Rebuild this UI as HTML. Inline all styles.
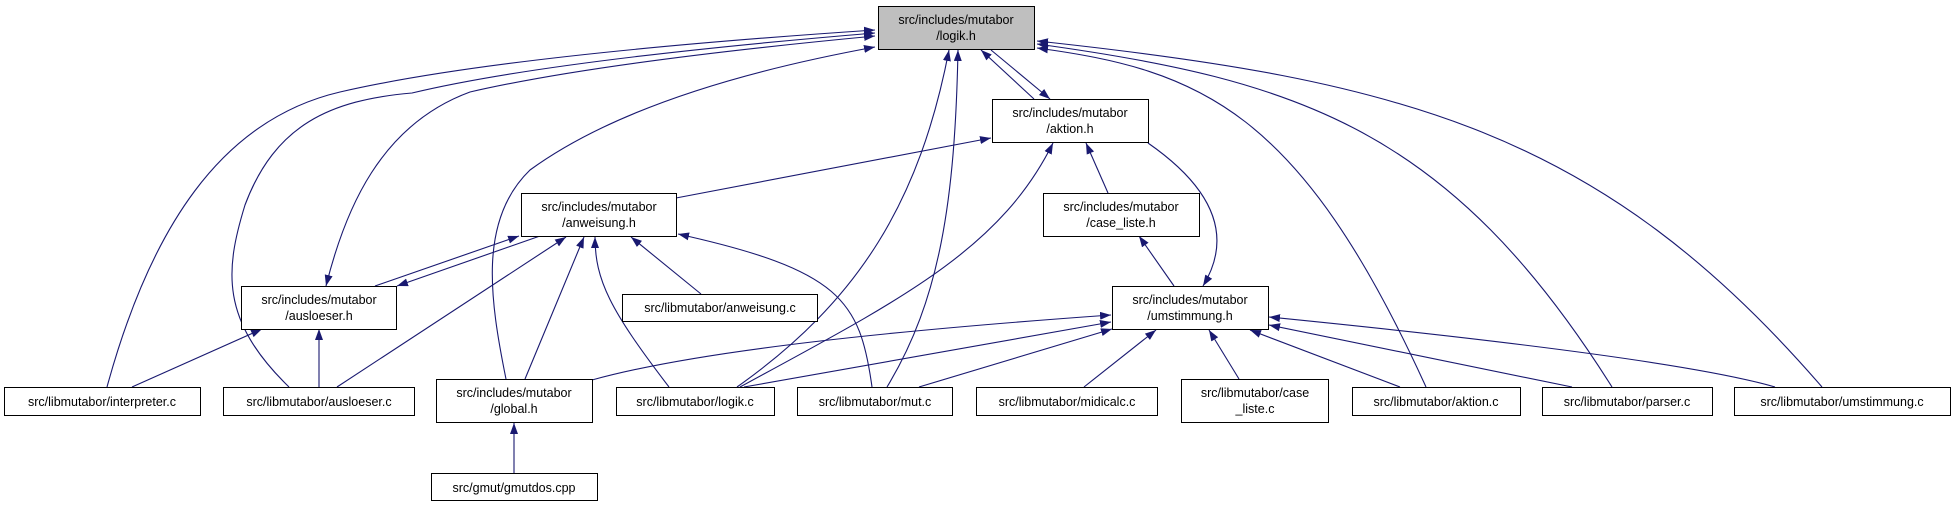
<!DOCTYPE html>
<html><head><meta charset="utf-8"><style>
html,body{margin:0;padding:0;background:#fff;}
svg{display:block;}
text{font-family:"Liberation Sans",sans-serif;font-size:12.5px;fill:#000;}
</style></head><body>
<svg width="1955" height="507" viewBox="0 0 1955 507" xmlns="http://www.w3.org/2000/svg">
<defs>
<marker id="a" markerUnits="userSpaceOnUse" markerWidth="12" markerHeight="9" refX="11" refY="4" orient="auto-start-reverse">
<path d="M0,0 L11,4 L0,8 z" fill="#191970"/>
</marker>
</defs>
<g fill="none" stroke="#191970" stroke-width="1.1" marker-end="url(#a)">
<path d="M107,387 C150,230 220,120 340,92 Q500,55 875,30"/>
<path d="M289,387 C220,320 225,270 245,205 C275,125 330,100 412,93 Q550,60 875,33"/>
<path d="M326,286 C345,210 380,125 470,92 Q600,62 875,36" marker-start="url(#a)"/>
<path d="M506,379 C490,300 478,220 530,170 Q640,90 875,47"/>
<path d="M737,387 C860,300 920,200 949,50"/>
<path d="M887,387 C940,300 955,200 958,50"/>
<path d="M1034,99 L981,50"/>
<path d="M991,50 L1050,99"/>
<path d="M1426,387 C1300,110 1200,70 1037,48"/>
<path d="M1612,387 C1450,130 1300,80 1037,44"/>
<path d="M1822,387 C1600,130 1400,80 1037,41"/>
<path d="M676,198 L991,138"/>
<path d="M375,286 L519,236"/>
<path d="M540,236 L397,286"/>
<path d="M337,387 L566,237"/>
<path d="M525,379 L584,237"/>
<path d="M669,387 C610,310 595,280 595,237"/>
<path d="M701,294 L631,237"/>
<path d="M872,387 C860,300 840,270 678,234"/>
<path d="M740,387 C900,300 1000,250 1053,143"/>
<path d="M1108,193 L1086,143"/>
<path d="M1148,143 C1230,200 1225,250 1203,286"/>
<path d="M1174,286 L1139,236"/>
<path d="M592,380 C700,350 900,330 1111,315"/>
<path d="M744,387 L1111,322"/>
<path d="M919,387 L1112,329"/>
<path d="M1084,387 L1156,330"/>
<path d="M1239,379 L1209,330"/>
<path d="M1400,387 L1250,330"/>
<path d="M1572,387 L1269,325"/>
<path d="M1775,387 C1700,365 1500,340 1269,317"/>
<path d="M132,387 L262,329"/>
<path d="M319,387 L319,329"/>
<path d="M514,473 L514,423"/>
</g>
<g stroke="#000" stroke-width="1" fill="#fff">
<rect x="878.5" y="6.5" width="156" height="43" fill="#bfbfbf"/>
<rect x="992.5" y="99.5" width="156" height="43"/>
<rect x="521.5" y="193.5" width="155" height="43"/>
<rect x="1043.5" y="193.5" width="156" height="43"/>
<rect x="241.5" y="286.5" width="155" height="43"/>
<rect x="622.5" y="294.5" width="195" height="27"/>
<rect x="1112.5" y="286.5" width="156" height="43"/>
<rect x="4.5" y="387.5" width="196" height="28"/>
<rect x="223.5" y="387.5" width="191" height="28"/>
<rect x="436.5" y="379.5" width="156" height="43"/>
<rect x="616.5" y="387.5" width="158" height="28"/>
<rect x="797.5" y="387.5" width="155" height="28"/>
<rect x="976.5" y="387.5" width="181" height="28"/>
<rect x="1181.5" y="379.5" width="147" height="43"/>
<rect x="1352.5" y="387.5" width="168" height="28"/>
<rect x="1542.5" y="387.5" width="170" height="28"/>
<rect x="1734.5" y="387.5" width="216" height="28"/>
<rect x="431.5" y="473.5" width="166" height="27"/>
</g>
<g text-anchor="middle">
<text x="956" y="24">src/includes/mutabor</text><text x="956" y="40">/logik.h</text>
<text x="1070" y="117">src/includes/mutabor</text><text x="1070" y="133">/aktion.h</text>
<text x="599" y="211">src/includes/mutabor</text><text x="599" y="227">/anweisung.h</text>
<text x="1121" y="211">src/includes/mutabor</text><text x="1121" y="227">/case_liste.h</text>
<text x="319" y="304">src/includes/mutabor</text><text x="319" y="320">/ausloeser.h</text>
<text x="720" y="312">src/libmutabor/anweisung.c</text>
<text x="1190" y="304">src/includes/mutabor</text><text x="1190" y="320">/umstimmung.h</text>
<text x="102" y="406">src/libmutabor/interpreter.c</text>
<text x="319" y="406">src/libmutabor/ausloeser.c</text>
<text x="514" y="397">src/includes/mutabor</text><text x="514" y="413">/global.h</text>
<text x="695" y="406">src/libmutabor/logik.c</text>
<text x="875" y="406">src/libmutabor/mut.c</text>
<text x="1067" y="406">src/libmutabor/midicalc.c</text>
<text x="1255" y="397">src/libmutabor/case</text><text x="1255" y="413">_liste.c</text>
<text x="1436" y="406">src/libmutabor/aktion.c</text>
<text x="1627" y="406">src/libmutabor/parser.c</text>
<text x="1842" y="406">src/libmutabor/umstimmung.c</text>
<text x="514" y="492">src/gmut/gmutdos.cpp</text>
</g>
</svg>
</body></html>
